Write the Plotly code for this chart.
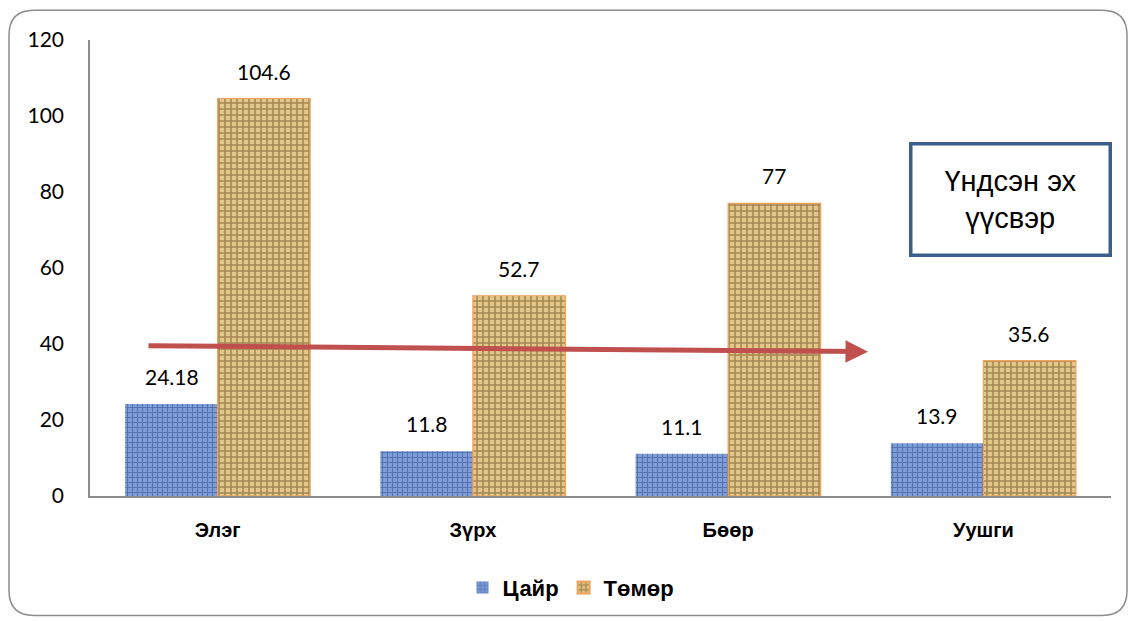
import plotly.graph_objects as go

categories = ["Элэг", "Зүрх", "Бөөр", "Уушги"]
zinc = [24.18, 11.8, 11.1, 13.9]
iron = [104.6, 52.7, 77, 35.6]
zinc_labels = ["24.18", "11.8", "11.1", "13.9"]
iron_labels = ["104.6", "52.7", "77", "35.6"]
series_names = ["Цайр", "Төмөр"]
note_text = "Үндсэн эх<br>үүсвэр"

W, H = 1129, 621
ML, MR, MT, MB = 90, 18, 40, 123
pw, ph = W - ML - MR, H - MT - MB

def px_x(p):
    return (p - ML) / pw

def px_y(p):
    return (H - MB - p) / ph

fig = go.Figure()
fig.add_trace(go.Bar(
    name=series_names[0], x=categories, y=zinc,
    marker=dict(color="#5B7FC0", line=dict(width=0),
                pattern=dict(shape="+", fgcolor="#2C4C8C", bgcolor="#7F9ED8",
                             size=5, solidity=0.4)),
))
fig.add_trace(go.Bar(
    name=series_names[1], x=categories, y=iron,
    marker=dict(color="#D2B070", line=dict(width=1.2, color="#F2A25A"),
                pattern=dict(shape="+", fgcolor="#654A1C", bgcolor="#E2C68A",
                             size=6, solidity=0.45)),
))

num_font = dict(family="Lato, Open Sans", size=21, color="#000")
ann = []
for i, c in enumerate(categories):
    ann.append(dict(x=c, y=zinc[i], text=zinc_labels[i], showarrow=False,
                    xshift=-46, yshift=13, yanchor="bottom", font=num_font))
    ann.append(dict(x=c, y=iron[i], text=iron_labels[i], showarrow=False,
                    xshift=46, yshift=13, yanchor="bottom", font=num_font))

# trend arrow
ann.append(dict(xref="paper", yref="paper", axref="pixel", ayref="pixel",
                x=px_x(868), y=px_y(353), ax=147 - 868, ay=347 - 353,
                text="", showarrow=True, arrowhead=2, arrowsize=0.9,
                arrowwidth=5, arrowcolor="#C0504D", standoff=0))

# text box
ann.append(dict(xref="paper", yref="paper", xanchor="center", yanchor="middle",
                x=px_x(1010), y=px_y(200), text=note_text, showarrow=False,
                font=dict(family="Liberation Sans, Arial", size=29, color="#000"),
                bordercolor="#3B5E8C", borderwidth=3.5, bgcolor="white",
                width=194, height=106, align="center"))

shapes = []
# outer rounded border
x0, x1 = px_x(9), px_x(1127)
y0, y1 = px_y(618), px_y(10)
rx, ry = 25 / pw, 25 / ph
path = (f"M {x0+rx},{y1} L {x1-rx},{y1} Q {x1},{y1} {x1},{y1-ry} "
        f"L {x1},{y0+ry} Q {x1},{y0} {x1-rx},{y0} L {x0+rx},{y0} "
        f"Q {x0},{y0} {x0},{y0+ry} L {x0},{y1-ry} Q {x0},{y1} {x0+rx},{y1} Z")
shapes.append(dict(type="path", xref="paper", yref="paper", path=path,
                   line=dict(color="#8C8C8C", width=1.5), layer="below"))

fig.update_layout(
    width=W, height=H,
    margin=dict(l=ML, r=MR, t=MT, b=MB),
    paper_bgcolor="white", plot_bgcolor="white",
    barmode="group", bargap=0.275, bargroupgap=0,
    showlegend=True,
    legend=dict(orientation="h", x=px_x(571), xanchor="center",
                y=px_y(590), yanchor="middle",
                font=dict(family="Liberation Sans, Arial", size=22, color="#000", weight="bold"),
                itemsizing="constant", itemwidth=30, traceorder="normal"),
    annotations=ann, shapes=shapes,
    xaxis=dict(showline=True, linecolor="#8C8C8C", linewidth=1.5,
               showgrid=False, ticks="", ticklabelstandoff=15,
               tickfont=dict(family="Liberation Sans, Arial", size=20, color="#000", weight="bold")),
    yaxis=dict(range=[0, 120], tickvals=[0, 20, 40, 60, 80, 100, 120],
               showline=True, linecolor="#8C8C8C", linewidth=1.5,
               showgrid=False, zeroline=False, ticks="", ticklabelstandoff=20,
               tickfont=dict(family="Lato, Open Sans", size=21, color="#000")),
)
fig.update_traces(cliponaxis=False)
fig.write_html("out.html")
